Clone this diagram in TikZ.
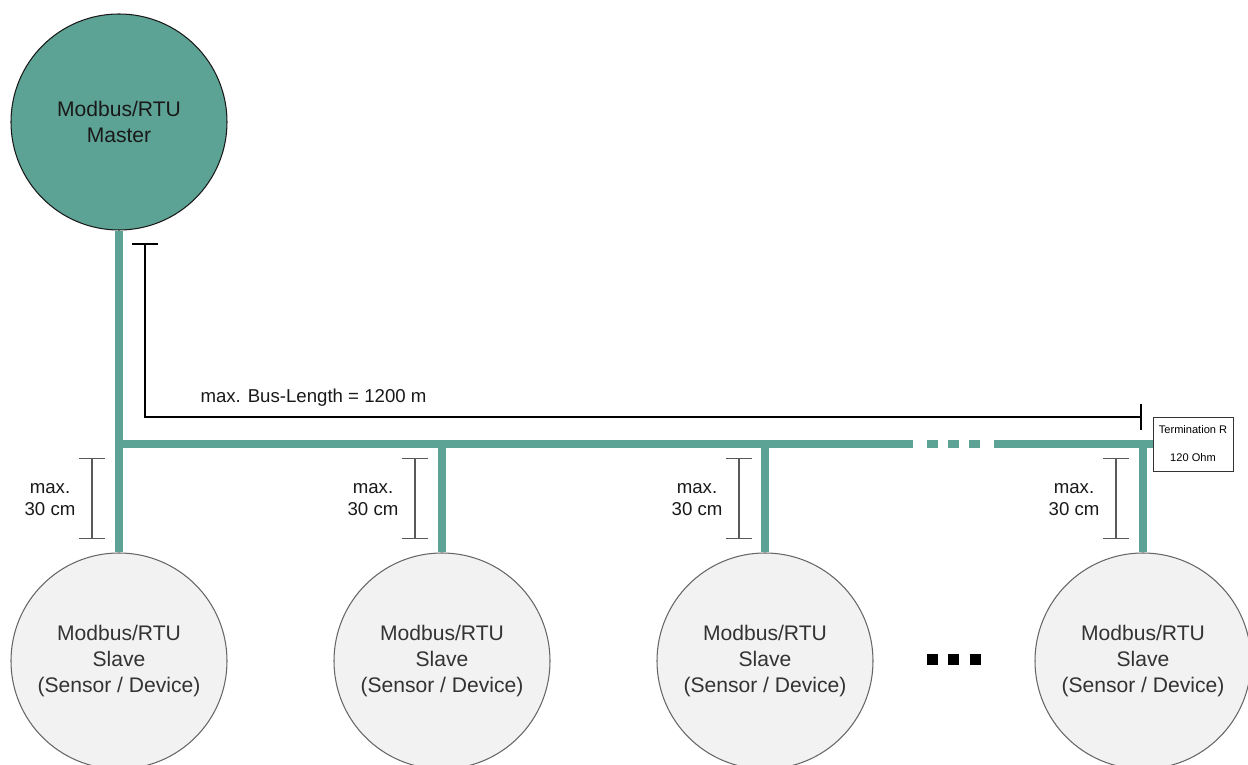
\documentclass[tikz,border=0pt]{standalone}
\usepackage{fontspec}
\setmainfont{Liberation Sans}
\usepackage{xcolor}
\usepackage{tikz}
\usetikzlibrary{arrows.meta}
\definecolor{busgreen}{RGB}{93,163,149}
\definecolor{slavegray}{RGB}{242,242,242}

\begin{document}
\begin{tikzpicture}[x=2cm,y=2cm,
        bus/.style={line width=4.6pt,draw=busgreen},
        master/.style={circle,draw=black!90,fill=busgreen,line width=0.6pt,minimum size=4.32cm,inner sep=0pt,
            align=center,text=black!90,font=\fontsize{12}{14.8}\selectfont},
        slave/.style={circle,draw=black!60,fill=slavegray,line width=0.6pt,minimum size=4.32cm,inner sep=0pt,
            align=center,text=black!80,font=\fontsize{12}{14.8}\selectfont},
        dimbar/.style={draw=black!65,line width=0.6pt,{Bar[width=5.2mm]}-{Bar[width=5.2mm]}},
        dimtext/.style={align=center,text=black!90,font=\fontsize{10.6}{12.5}\selectfont},
        dot/.style={rectangle,fill=black,minimum size=0.22cm,inner sep=0pt}]
        \useasboundingbox (0,0) rectangle (12.48,7.65);
        % bus cable
        \coordinate (busleft) at (1.19,3.21);
        \node[draw=black!80,fill=white,line width=0.5pt,minimum width=1.6cm,minimum height=1.08cm,inner sep=0pt,
            align=center,font=\fontsize{6.3}{15.9}\selectfont] (term) at (11.93,3.21) {Termination R\\120 Ohm};
        \draw[bus] (busleft) -- (9.13,3.21);
        \draw[bus,dash pattern=on 0.22cm off 0.2cm] (9.27,3.21) -- (9.81,3.21);
        \draw[bus] (9.94,3.21) -- (term.west);
        % devices
        \node[master] (master) at (1.19,6.43) {Modbus/RTU\\Master};
        \node[slave] (slaveA) at (1.19,1.04) {Modbus/RTU\\Slave\\(Sensor / Device)};
        \node[slave] (slaveB) at (4.42,1.04) {Modbus/RTU\\Slave\\(Sensor / Device)};
        \node[slave] (slaveC) at (7.65,1.04) {Modbus/RTU\\Slave\\(Sensor / Device)};
        \node[slave] (slaveD) at (11.43,1.04) {Modbus/RTU\\Slave\\(Sensor / Device)};
        \draw[bus] (master) -- (slaveA);
        \draw[bus] (slaveB) -- (slaveB |- busleft);
        \draw[bus] (slaveC) -- (slaveC |- busleft);
        \draw[bus] (slaveD) -- (slaveD |- busleft);
        \node[dot] (dotA) at (9.32,1.055) {};
        \node[dot] (dotB) at (9.535,1.055) {};
        \node[dot] (dotC) at (9.755,1.055) {};
        % bus length
        \draw[line width=1.1pt,{Bar[width=5.2mm]}-{Bar[width=5.2mm]}] (1.45,5.22) -- (1.45,3.48) -- (11.42,3.48);
        \node[dimtext] (buslen) at (3.135,3.67) {max. Bus-Length = 1200 m};
        % stub lengths
        \draw[dimbar] (0.92,3.07) -- (0.92,2.26);
        \draw[dimbar] (4.15,3.07) -- (4.15,2.26);
        \draw[dimbar] (7.39,3.07) -- (7.39,2.26);
        \draw[dimbar] (11.16,3.07) -- (11.16,2.26);
        \node[dimtext] (stubA) at (0.50,2.65) {max.\\30 cm};
        \node[dimtext] (stubB) at (3.73,2.65) {max.\\30 cm};
        \node[dimtext] (stubC) at (6.97,2.65) {max.\\30 cm};
        \node[dimtext] (stubD) at (10.74,2.65) {max.\\30 cm};
    \end{tikzpicture}
\end{document}
